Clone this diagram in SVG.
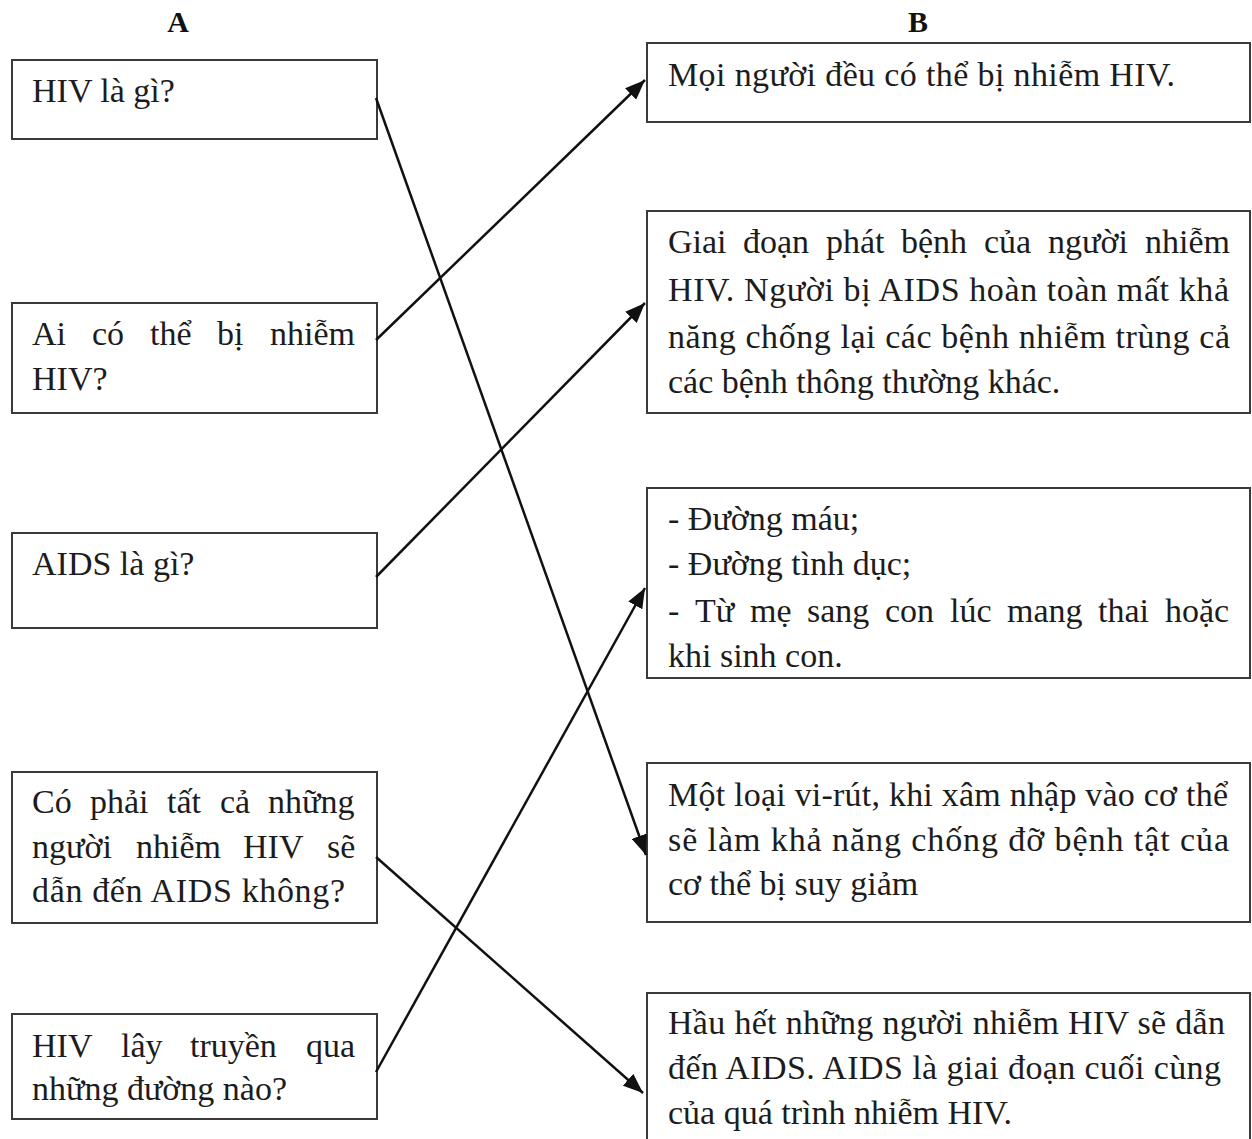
<svg xmlns="http://www.w3.org/2000/svg" width="1252" height="1139" viewBox="0 0 1252 1139">
<style>
.box{fill:#fff;stroke:#3a3a3a;stroke-width:2}
.t{font-family:"Liberation Serif","Times New Roman",serif;font-size:34px;fill:#1c1c1c}
.h{font-family:"Liberation Serif","Times New Roman",serif;font-size:30px;font-weight:bold;fill:#111;text-anchor:middle}
.c{stroke:#111;stroke-width:2.5;fill:none;marker-end:url(#ah)}
</style>
<defs>
<marker id="ah" markerUnits="userSpaceOnUse" markerWidth="22" markerHeight="16" refX="20" refY="8" orient="auto">
<path d="M0,0 L20,8 L0,16 Z" fill="#111"/>
</marker>
</defs>
<rect width="1252" height="1139" fill="#fff"/>
<text class="h" x="178" y="32">A</text>
<text class="h" x="918" y="32">B</text>

<g id="a1"><rect class="box" x="12" y="60" width="365" height="79"/>
<text class="t" x="32" y="102">HIV là gì?</text></g>

<g id="a2"><rect class="box" x="12" y="303" width="365" height="110"/>
<text class="t" y="345"><tspan x="32">Ai</tspan><tspan x="92">có</tspan><tspan x="150">thể</tspan><tspan x="217">bị</tspan><tspan x="270">nhiễm</tspan></text>
<text class="t" x="32" y="390">HIV?</text></g>

<g id="a3"><rect class="box" x="12" y="533" width="365" height="95"/>
<text class="t" x="32" y="575">AIDS là gì?</text></g>

<g id="a4"><rect class="box" x="12" y="772" width="365" height="151"/>
<text class="t" y="813"><tspan x="32">Có</tspan><tspan x="90">phải</tspan><tspan x="167">tất</tspan><tspan x="220">cả</tspan><tspan x="268">những</tspan></text>
<text class="t" y="858"><tspan x="32">người</tspan><tspan x="136">nhiễm</tspan><tspan x="243">HIV</tspan><tspan x="327">sẽ</tspan></text>
<text class="t" x="32" y="902" textLength="313">dẫn đến AIDS không?</text></g>

<g id="a5"><rect class="box" x="12" y="1014" width="365" height="105"/>
<text class="t" y="1057"><tspan x="32">HIV</tspan><tspan x="121">lây</tspan><tspan x="190">truyền</tspan><tspan x="306">qua</tspan></text>
<text class="t" x="32" y="1100">những đường nào?</text></g>

<g id="b1"><rect class="box" x="647" y="43" width="603" height="79"/>
<text class="t" x="668" y="86" textLength="507">Mọi người đều có thể bị nhiễm HIV.</text></g>

<g id="b2"><rect class="box" x="647" y="211" width="603" height="202"/>
<text class="t" y="253"><tspan x="668">Giai</tspan><tspan x="743">đoạn</tspan><tspan x="826">phát</tspan><tspan x="901">bệnh</tspan><tspan x="984">của</tspan><tspan x="1048">người</tspan><tspan x="1145">nhiễm</tspan></text>
<text class="t" x="668" y="301" textLength="561">HIV. Người bị AIDS hoàn toàn mất khả</text>
<text class="t" x="668" y="348" textLength="562">năng chống lại các bệnh nhiễm trùng cả</text>
<text class="t" x="668" y="393">các bệnh thông thường khác.</text></g>

<g id="b3"><rect class="box" x="647" y="488" width="603" height="190"/>
<text class="t" x="668" y="530">- Đường máu;</text>
<text class="t" x="668" y="575">- Đường tình dục;</text>
<text class="t" y="622"><tspan x="668">-</tspan><tspan x="695">Từ</tspan><tspan x="750">mẹ</tspan><tspan x="807">sang</tspan><tspan x="885">con</tspan><tspan x="950">lúc</tspan><tspan x="1007">mang</tspan><tspan x="1098">thai</tspan><tspan x="1165">hoặc</tspan></text>
<text class="t" x="668" y="667">khi sinh con.</text></g>

<g id="b4"><rect class="box" x="647" y="763" width="603" height="159"/>
<text class="t" x="668" y="806" textLength="560">Một loại vi-rút, khi xâm nhập vào cơ thể</text>
<text class="t" x="668" y="851" textLength="561">sẽ làm khả năng chống đỡ bệnh tật của</text>
<text class="t" x="668" y="895">cơ thể bị suy giảm</text></g>

<g id="b5"><rect class="box" x="647" y="993" width="603" height="160"/>
<text class="t" x="668" y="1034" textLength="557">Hầu hết những người nhiễm HIV sẽ dẫn</text>
<text class="t" x="668" y="1079" textLength="553">đến AIDS. AIDS là giai đoạn cuối cùng</text>
<text class="t" x="668" y="1124">của quá trình nhiễm HIV.</text></g>

<g id="connectors">
<line class="c" x1="376" y1="98" x2="646" y2="855"/>
<line class="c" x1="376" y1="340" x2="645" y2="80"/>
<line class="c" x1="376" y1="577" x2="645" y2="303"/>
<line class="c" x1="376" y1="857" x2="643" y2="1093"/>
<line class="c" x1="376" y1="1072" x2="645" y2="588"/>
</g>
</svg>
